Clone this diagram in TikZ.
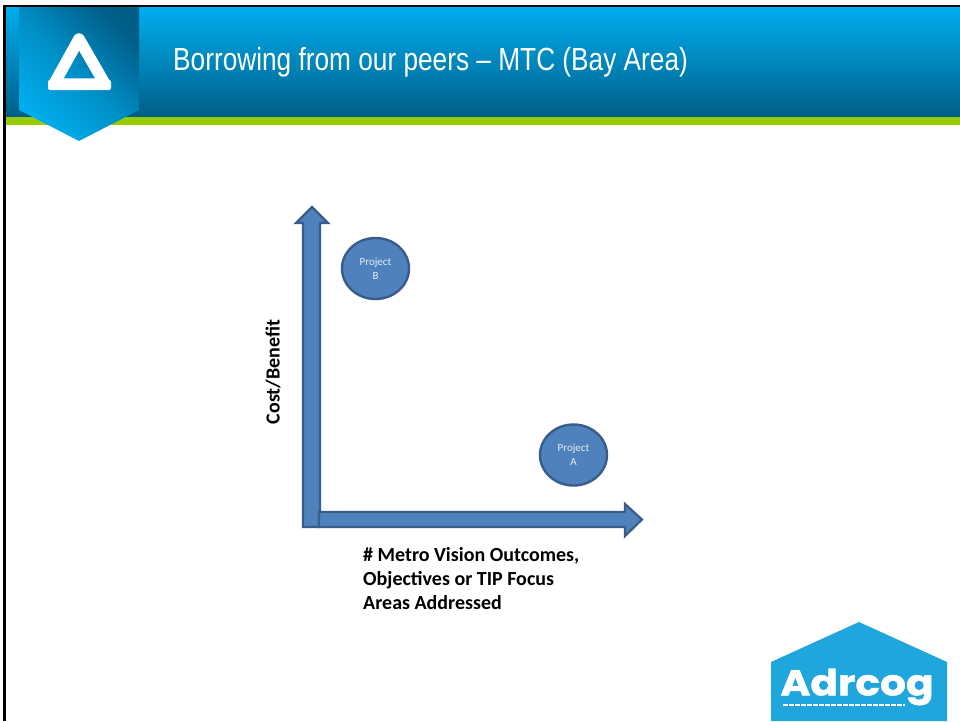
\documentclass[tikz,border=0pt]{standalone}
\usepackage{fontspec}
\setmainfont{Carlito}
\newfontfamily\titlefont[FakeStretch=0.82]{Liberation Sans}
\newfontfamily\logofont[FakeStretch=1.13,FakeBold=1.2]{Poppins}
\usetikzlibrary{shapes.geometric}
\definecolor{axisfill}{HTML}{4F81BD}
\definecolor{axisline}{HTML}{385D8A}
\definecolor{headtop}{HTML}{00AEEF}
\definecolor{headbot}{HTML}{005E88}
\definecolor{barlime}{HTML}{99CC00}
\definecolor{logoblue}{HTML}{1FA6DD}
\tikzset{
  axisarrow/.style={fill=axisfill,draw=axisline,line width=2.2pt,line join=miter},
  project/.style={ellipse,fill=axisfill,draw=axisline,line width=2.4pt,minimum width=67pt,minimum height=61pt,inner sep=0pt,text=white!85!axisfill,font=\fontsize{11}{14}\selectfont,align=center},
  axislabel/.style={font=\bfseries\fontsize{20}{24}\selectfont,text=black,inner sep=0pt},
}
\begin{document}
\begin{tikzpicture}[x=1pt,y=-1pt]
\useasboundingbox (0,0) rectangle (960,721);
\fill[white] (0,0) rectangle (960,721);
% frame
\fill[black] (3,5) rectangle (960,7);
\fill[black] (3,5) rectangle (6,721);
% header
\shade[top color=headtop,bottom color=headbot] (6,7) rectangle (960,117);
\fill[barlime] (6,117) rectangle (960,125);
% pennant
\shade[shading=axis,top color=headbot,bottom color=headtop,shading angle=-45,middle color=headtop!60!headbot]
  (19,7) -- (139,7) -- (139,110) -- (79,141) -- (19,110) -- cycle;
% triangle icon
\draw[white,line width=11.5pt,line join=round] (79,39) -- (105,84) -- (54,84) -- cycle;
\fill[white,rounded corners=2pt] (48,80) rectangle (111,90);
% title
\node[anchor=west,text=white,inner sep=0pt,font=\titlefont\fontsize{32}{34}\selectfont] (title) at (173,62) {Borrowing from our peers – MTC (Bay Area)};
% axes
\draw[axisarrow] (303,527) -- (303,223) -- (296,223) -- (312,207) -- (328,223) -- (320,223) -- (320,527) -- cycle;
\draw[axisarrow] (319,512) -- (625,512) -- (625,504) -- (642,519.5) -- (625,536) -- (625,527) -- (319,527) -- cycle;
% projects
\node[project] (projb) at (375.5,268.5) {Project\\B};
\node[project] (proja) at (573.5,455) {Project\\A};
% labels
\node[axislabel,rotate=90] (ylabel) at (273,372) {Cost/Benefit};
\node[axislabel,anchor=north west,align=left] (xlabel) at (363,547) {\# Metro Vision Outcomes,\\Objectives or TIP Focus\\Areas Addressed};
% logo
\fill[logoblue] (771,662) -- (859,622) -- (947,662) -- (947,721) -- (771,721) -- cycle;
\node[anchor=center,text=white,inner sep=0pt,font=\logofont\bfseries\fontsize{36}{36}\selectfont] (logo) at (857,687) {Adrcog};
\draw[white,line width=2pt,dash pattern=on 5pt off 1pt] (783,705) -- (905,705);
\end{tikzpicture}
\end{document}
